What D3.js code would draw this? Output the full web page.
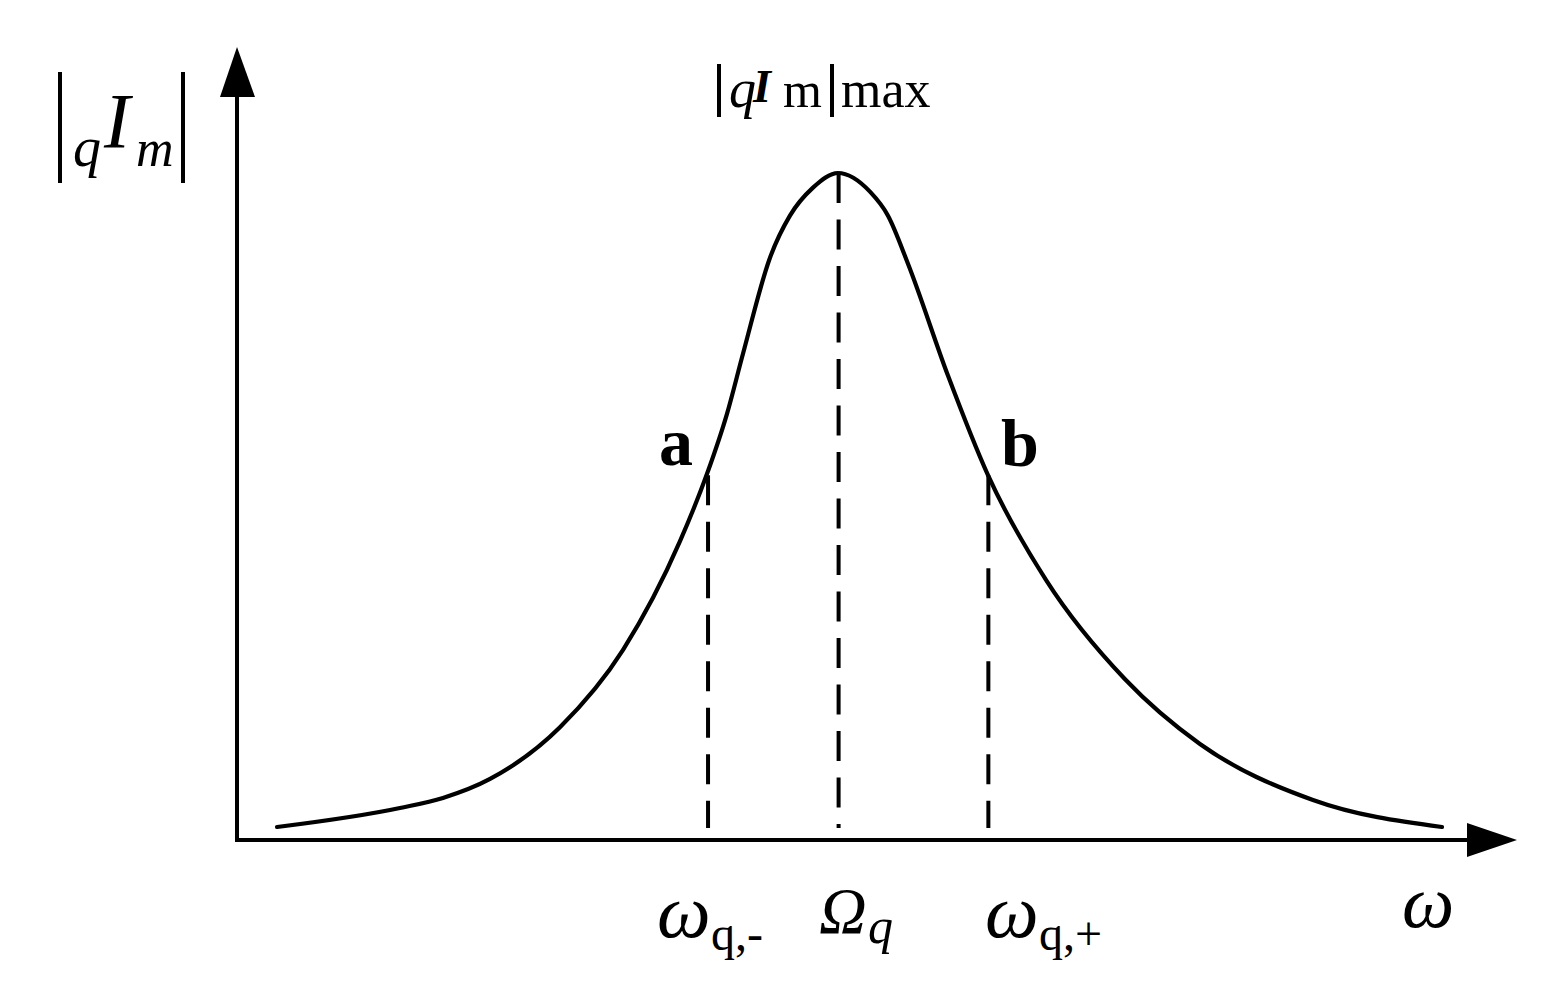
<!DOCTYPE html>
<html>
<head>
<meta charset="utf-8">
<script src="https://cdn.jsdelivr.net/npm/d3@7"></script>
<style>
  html, body { margin: 0; padding: 0; background: #fff; }
  svg { display: block; }
  text { font-family: "Liberation Serif", "Times New Roman", serif; fill: #000; }
</style>
</head>
<body>
<svg id="chart" width="1566" height="988"></svg>
<script>
// ---- data (arbitrary units) ----
const omega = [0.313, 1.273, 1.609, 1.977, 2.523, 3.016, 3.461, 3.672, 3.828, 3.953, 4.164, 4.320, 4.500, 4.695,
               4.945, 5.086, 5.242, 5.555, 5.867, 6.320, 6.938, 7.523, 8.406, 9.414];
const amplitude = [0.0195, 0.048, 0.063, 0.0915, 0.169, 0.285, 0.448, 0.549, 0.639, 0.729, 0.873, 0.936, 0.978, 1.000,
                   0.972, 0.936, 0.864, 0.696, 0.547, 0.390, 0.241, 0.144, 0.060, 0.0195];
const markerNames = ["a", "peak", "b"];
const markerOmega = [3.68, 4.70, 5.87];
const markerAmp = [0.547, 1.0, 0.547];
const dashBottom = 0.018;

// ---- scales ----
const x = d3.scaleLinear().domain([0, 10]).range([237, 1517]);
const y = d3.scaleLinear().domain([0, 1]).range([840, 173]);

const svg = d3.select("#chart");

// axes
svg.append("line").attr("x1", x(0) - 2).attr("x2", 1470).attr("y1", y(0)).attr("y2", y(0))
  .attr("stroke", "#000").attr("stroke-width", 4);
svg.append("line").attr("x1", x(0)).attr("x2", x(0)).attr("y1", y(0) + 2).attr("y2", 95)
  .attr("stroke", "#000").attr("stroke-width", 4);
// arrow heads
svg.append("path").attr("d", `M1467,${y(0) - 17} L1517,${y(0)} L1467,${y(0) + 17} Z`).attr("fill", "#000");
svg.append("path").attr("d", `M${x(0) - 17},97 L${x(0)},47 L${x(0) + 18},97 Z`).attr("fill", "#000");

// curve
const pts = omega.map((w, i) => [w, amplitude[i]]);
const line = d3.line().x(d => x(d[0])).y(d => y(d[1])).curve(d3.curveMonotoneX);
svg.append("path").attr("d", line(pts)).attr("fill", "none").attr("stroke", "#000")
  .attr("stroke-width", 4.2).attr("stroke-linecap", "round");

// dashed drop lines
markerOmega.forEach((w, i) => {
  svg.append("line")
    .attr("x1", x(w)).attr("x2", x(w))
    .attr("y1", y(markerAmp[i])).attr("y2", y(dashBottom))
    .attr("stroke", "#000").attr("stroke-width", 4)
    .attr("stroke-dasharray", "30,16.5");
});

// point labels a, b
svg.append("text").attr("x", 659).attr("y", 465).attr("font-size", 68).attr("font-weight", "bold").text("a");
svg.append("text").attr("x", 1001).attr("y", 466).attr("font-size", 68).attr("font-weight", "bold").text("b");

// y-axis label |q I m|
function bar(x0, y0, y1) {
  svg.append("line").attr("x1", x0).attr("x2", x0).attr("y1", y0).attr("y2", y1)
    .attr("stroke", "#000").attr("stroke-width", 4);
}
bar(60, 72, 183);
bar(183, 72, 183);
svg.append("text").attr("x", 73).attr("y", 166).attr("font-size", 56).attr("font-style", "italic").text("q");
svg.append("text").attr("x", 104).attr("y", 147).attr("font-size", 78).attr("font-style", "italic").text("I");
svg.append("text").attr("x", 136).attr("y", 166).attr("font-size", 52).attr("font-style", "italic").text("m");

// peak label |qIm|max
bar(719, 64, 117);
bar(832, 64, 117);
svg.append("text").attr("x", 729).attr("y", 107).attr("font-size", 54).attr("font-style", "italic").text("q");
svg.append("text").attr("x", 753).attr("y", 102).attr("font-size", 46).attr("font-style", "italic").attr("font-weight", "bold").text("I");
svg.append("text").attr("x", 783).attr("y", 107).attr("font-size", 50).text("m");
svg.append("text").attr("x", 841).attr("y", 107).attr("font-size", 52).text("max");

// x-axis labels
function omegaLabel(x0, sub) {
  svg.append("text").attr("x", x0).attr("y", 937).attr("font-size", 76).attr("font-style", "italic").text("ω");
  svg.append("text").attr("x", x0 + 54).attr("y", 950).attr("font-size", 48).text(sub);
}
omegaLabel(657, "q,-");
omegaLabel(985, "q,+");
svg.append("text").attr("x", 819).attr("y", 933).attr("font-size", 66).attr("font-style", "italic").text("Ω");
svg.append("text").attr("x", 868).attr("y", 943).attr("font-size", 50).attr("font-style", "italic").text("q");
svg.append("text").attr("x", 1402).attr("y", 927).attr("font-size", 74).attr("font-style", "italic").text("ω");
</script>
</body>
</html>
